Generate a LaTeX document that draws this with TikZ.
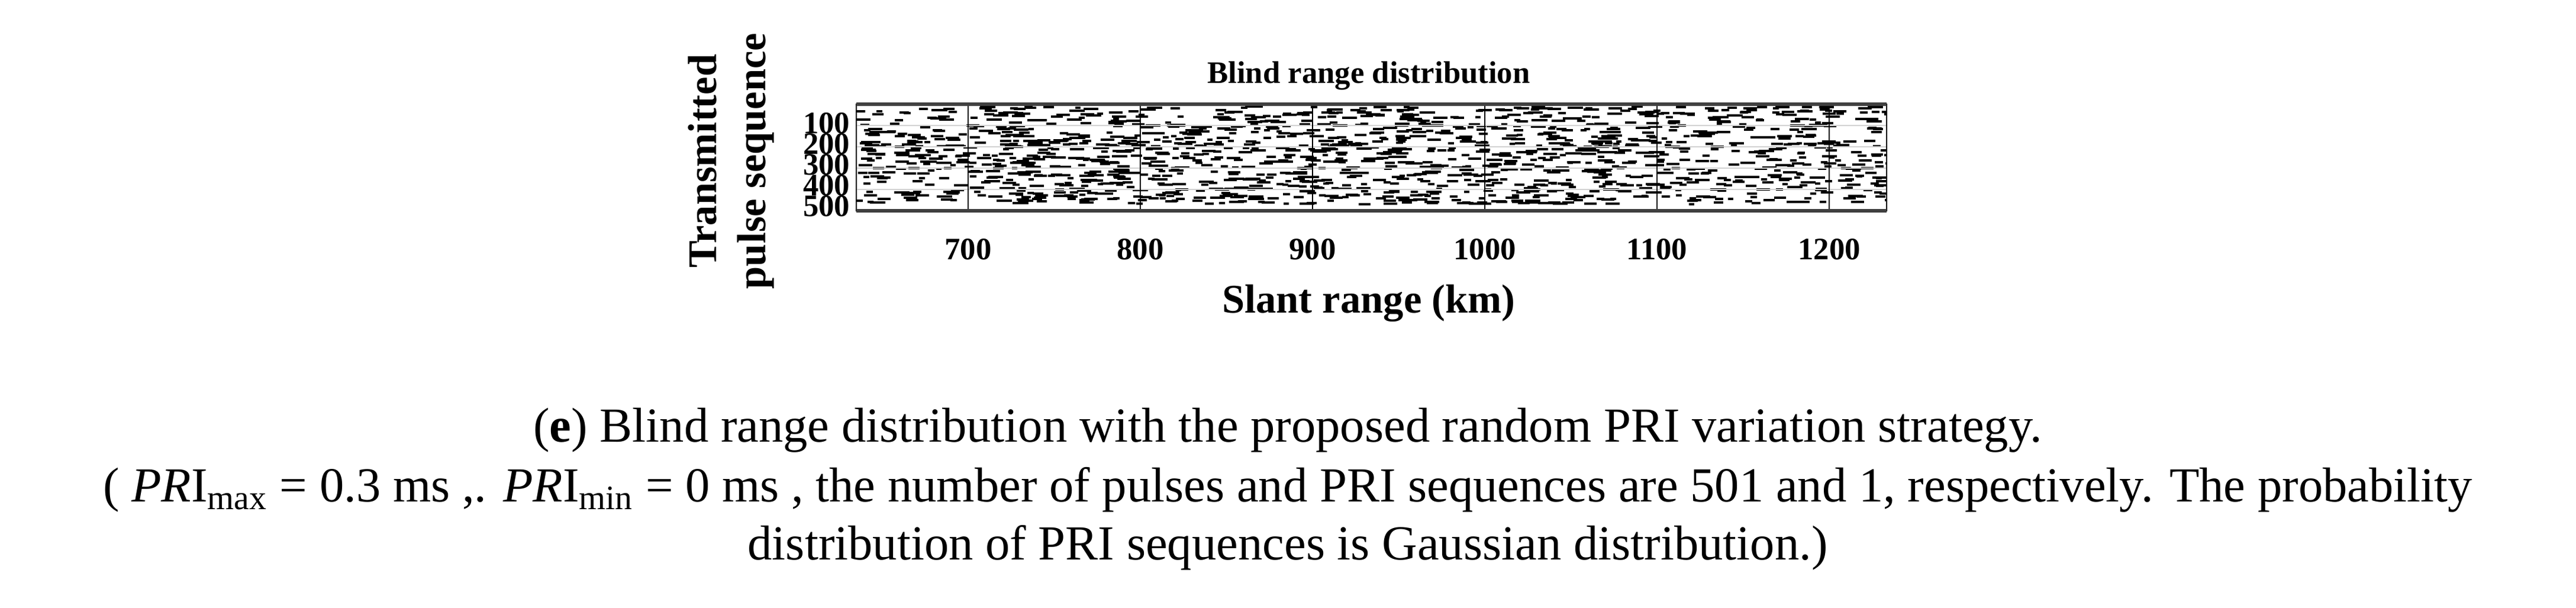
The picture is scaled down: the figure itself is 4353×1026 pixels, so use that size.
\documentclass[tikz,border=0pt]{standalone}
\usepackage{fontspec}
\setmainfont{Liberation Serif}
\begin{document}
\begin{tikzpicture}[x=0.01cm,y=-0.01cm,
  lab/.style={font=\fontsize{15}{17}\selectfont\bfseries, inner sep=0pt},
  biglab/.style={font=\fontsize{19.5}{22}\selectfont\bfseries, inner sep=0pt},
  captxt/.style={font=\fontsize{23.5}{27}\selectfont, inner sep=0pt}]
\useasboundingbox (0,0) rectangle (4353,1026);
% data dashes
\pgfmathsetseed{7}
\begin{scope}
\clip (1447,176) rectangle (3188,356);
\foreach \i in {1,...,1500}{
  \pgfmathsetmacro{\xx}{1447+1741*rnd}
  \pgfmathsetmacro{\yy}{178+165*rnd}
  \pgfmathsetmacro{\ll}{9+18*rnd}
  \fill (\xx,\yy) rectangle ++(\ll,4);
}
\end{scope}
% grid
\foreach \y in {212,248,284,320} \draw[gray!35,line width=0.6pt] (1447,\y) -- (3188,\y);
\foreach \x/\t in {1636/700,1927/800,2218/900,2509/1000,2800/1100,3091/1200}{
  \draw[line width=0.4pt] (\x,176) -- (\x,356);
  \node[lab] (t\t) at (\x,421) {\t};
}
\draw[line width=0.4pt] (1447,176) rectangle (3188,356);
\draw[black!75,line width=1.6pt] (1447,176) -- (3188,176) (1447,356) -- (3188,356);
\foreach \y/\t in {208/100,243/200,278/300,313/400,348/500}
  \node[lab,anchor=east] (y\t) at (1437,\y) {\t};
\node[lab] (title) at (2313,128) {Blind range distribution};
\node[biglab] (xl) at (2313,512) {Slant range (km)};
\node[biglab,rotate=90] (yl1) at (1187,272) {Transmitted};
\node[biglab,rotate=90] (yl2) at (1277,272) {pulse sequence};
% caption
\node[captxt] (c1) at (2176,727) {(\textbf{e}) Blind range distribution with the proposed random PRI variation strategy.};
\node[captxt] (c2) at (2176,827) {( \textit{PR}I\textsubscript{max} = 0.3 ms ,. \textit{PR}I\textsubscript{min} = 0 ms , the number of pulses and PRI sequences are 501 and 1, respectively. The probability};
\node[captxt] (c3) at (2176,925) {distribution of PRI sequences is Gaussian distribution.)};
\end{tikzpicture}
\end{document}
